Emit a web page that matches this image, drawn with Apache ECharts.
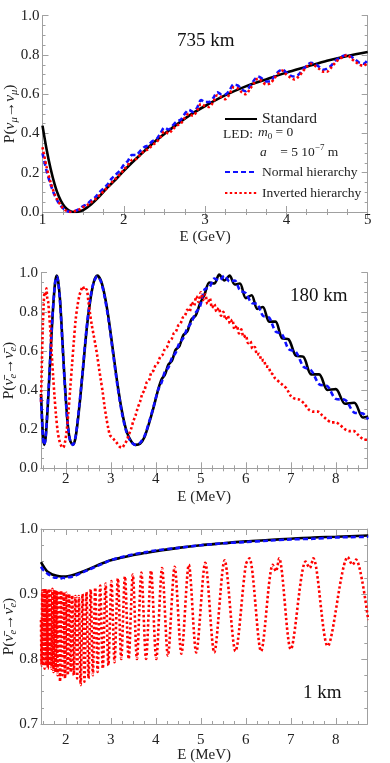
<!DOCTYPE html>
<html>
<head>
<meta charset="utf-8">
<script src="https://cdn.jsdelivr.net/npm/echarts@6/dist/echarts.min.js"></script>
<style>
html, body { margin: 0; padding: 0; background: #fff; }
#main { width: 390px; height: 763px; }
</style>
</head>
<body>
<div id="main"></div>
<script>
// ---- data ----
// 735 km, P(numu -> numu), E in GeV
var std735 = [[1.0,0.44],[1.05,0.32],[1.1,0.22],[1.15,0.14],[1.2,0.08],[1.25,0.04],[1.3,0.015],[1.35,0.003],[1.4,0.0],[1.45,0.003],[1.5,0.01],[1.6,0.04],[1.7,0.08],[1.8,0.125],[1.9,0.165],[2.0,0.21],[2.2,0.29],[2.4,0.365],[2.6,0.43],[2.8,0.49],[3.0,0.54],[3.25,0.595],[3.5,0.64],[3.75,0.675],[4.0,0.71],[4.25,0.74],[4.5,0.77],[4.75,0.795],[5.0,0.815]];
var nh735 = [[1.00,0.30],[1.05,0.21],[1.10,0.14],[1.15,0.085],[1.20,0.045],[1.25,0.02],[1.30,0.005],[1.35,0.0],[1.40,0.005],[1.45,0.015],[1.50,0.03],[1.55,0.04],[1.60,0.06],[1.65,0.075],[1.70,0.10],[1.75,0.12],[1.80,0.14],[1.85,0.17],[1.90,0.19],[1.95,0.21],[2.00,0.24],[2.05,0.26],[2.10,0.29],[2.15,0.29],[2.20,0.31],[2.25,0.33],[2.30,0.34],[2.35,0.36],[2.40,0.37],[2.45,0.40],[2.50,0.43],[2.55,0.42],[2.60,0.44],[2.65,0.46],[2.70,0.47],[2.75,0.50],[2.80,0.52],[2.85,0.51],[2.90,0.53],[2.95,0.57],[3.00,0.56],[3.05,0.56],[3.10,0.58],[3.15,0.61],[3.20,0.60],[3.25,0.60],[3.30,0.62],[3.35,0.65],[3.40,0.645],[3.45,0.625],[3.50,0.615],[3.55,0.64],[3.60,0.67],[3.65,0.69],[3.70,0.68],[3.75,0.665],[3.80,0.665],[3.85,0.69],[3.90,0.715],[3.95,0.725],[4.00,0.71],[4.05,0.695],[4.10,0.69],[4.15,0.70],[4.20,0.725],[4.25,0.745],[4.30,0.76],[4.35,0.755],[4.40,0.74],[4.45,0.725],[4.50,0.73],[4.55,0.745],[4.60,0.77],[4.65,0.785],[4.70,0.795],[4.75,0.80],[4.80,0.79],[4.85,0.775],[4.90,0.76],[4.95,0.755],[5.00,0.775]];
var ih735 = [[1.00,0.33],[1.05,0.23],[1.10,0.15],[1.15,0.09],[1.20,0.05],[1.25,0.02],[1.30,0.005],[1.35,0.0],[1.40,0.005],[1.45,0.012],[1.50,0.025],[1.55,0.035],[1.60,0.05],[1.65,0.065],[1.70,0.085],[1.75,0.105],[1.80,0.125],[1.85,0.15],[1.90,0.17],[1.95,0.19],[2.00,0.215],[2.05,0.24],[2.10,0.265],[2.15,0.27],[2.20,0.29],[2.25,0.31],[2.30,0.32],[2.35,0.34],[2.40,0.355],[2.45,0.38],[2.50,0.41],[2.55,0.40],[2.60,0.42],[2.65,0.44],[2.70,0.45],[2.75,0.48],[2.80,0.50],[2.85,0.49],[2.90,0.515],[2.95,0.55],[3.00,0.54],[3.05,0.535],[3.10,0.56],[3.15,0.595],[3.20,0.585],[3.25,0.575],[3.30,0.60],[3.35,0.635],[3.40,0.63],[3.45,0.61],[3.50,0.60],[3.55,0.625],[3.60,0.655],[3.65,0.68],[3.70,0.665],[3.75,0.65],[3.80,0.655],[3.85,0.68],[3.90,0.705],[3.95,0.72],[4.00,0.70],[4.05,0.685],[4.10,0.675],[4.15,0.69],[4.20,0.715],[4.25,0.74],[4.30,0.755],[4.35,0.745],[4.40,0.73],[4.45,0.715],[4.50,0.715],[4.55,0.735],[4.60,0.76],[4.65,0.78],[4.70,0.79],[4.75,0.80],[4.80,0.78],[4.85,0.765],[4.90,0.75],[4.95,0.745],[5.00,0.765]];

// 180 km, P(anti-nue -> anti-nue), E in MeV
var std180 = [[1.45,0.38],[1.48,0.22],[1.50,0.15],[1.52,0.12],[1.55,0.15],[1.58,0.24],[1.62,0.40],[1.66,0.58],[1.70,0.75],[1.74,0.89],[1.77,0.96],[1.80,0.985],[1.83,0.96],[1.87,0.87],[1.91,0.72],[1.95,0.55],[2.00,0.36],[2.05,0.21],[2.10,0.14],[2.16,0.12],[2.22,0.16],[2.30,0.31],[2.38,0.50],[2.46,0.70],[2.54,0.85],[2.62,0.95],[2.70,0.985],[2.78,0.96],[2.86,0.89],[2.95,0.77],[3.05,0.60],[3.15,0.43],[3.25,0.29],[3.35,0.19],[3.45,0.14],[3.55,0.12],[3.65,0.125],[3.75,0.16],[3.85,0.23],[3.95,0.31],[4.05,0.40],[4.13,0.455],[4.205,0.48],[4.28,0.53],[4.36,0.55],[4.44,0.605],[4.525,0.625],[4.61,0.68],[4.70,0.70],[4.79,0.76],[4.885,0.78],[4.98,0.84],[5.085,0.89],[5.19,0.95],[5.30,0.945],[5.41,0.99],[5.525,0.96],[5.64,0.985],[5.755,0.94],[5.87,0.945],[6.00,0.87],[6.13,0.885],[6.255,0.815],[6.38,0.825],[6.52,0.75],[6.66,0.75],[6.805,0.665],[6.95,0.66],[7.115,0.575],[7.28,0.57],[7.455,0.48],[7.63,0.48],[7.815,0.40],[8.0,0.405],[8.205,0.33],[8.41,0.335],[8.6,0.26],[8.72,0.265]];
var nh180 = [[1.45,0.36],[1.48,0.21],[1.50,0.14],[1.52,0.12],[1.55,0.15],[1.58,0.25],[1.62,0.41],[1.66,0.59],[1.70,0.76],[1.74,0.89],[1.77,0.96],[1.80,0.98],[1.83,0.955],[1.87,0.86],[1.91,0.71],[1.95,0.54],[2.00,0.35],[2.05,0.21],[2.10,0.14],[2.16,0.12],[2.22,0.165],[2.30,0.32],[2.38,0.51],[2.46,0.71],[2.54,0.86],[2.62,0.95],[2.70,0.98],[2.78,0.955],[2.86,0.88],[2.95,0.76],[3.05,0.59],[3.15,0.42],[3.25,0.28],[3.35,0.185],[3.45,0.135],[3.55,0.12],[3.65,0.13],[3.75,0.165],[3.85,0.235],[3.95,0.315],[4.05,0.40],[4.13,0.44],[4.205,0.495],[4.28,0.515],[4.36,0.565],[4.44,0.59],[4.525,0.64],[4.61,0.665],[4.70,0.715],[4.79,0.745],[4.885,0.795],[4.98,0.825],[5.085,0.915],[5.19,0.925],[5.30,0.97],[5.41,0.96],[5.525,0.985],[5.64,0.955],[5.755,0.96],[5.87,0.91],[6.00,0.895],[6.13,0.845],[6.255,0.84],[6.38,0.78],[6.52,0.77],[6.66,0.70],[6.805,0.685],[6.95,0.61],[7.115,0.595],[7.28,0.52],[7.455,0.50],[7.63,0.43],[7.815,0.42],[8.0,0.355],[8.205,0.35],[8.41,0.285],[8.6,0.28],[8.72,0.25]];
var ih180 = [[1.45,0.34],[1.47,0.55],[1.49,0.72],[1.51,0.84],[1.53,0.90],[1.55,0.88],[1.57,0.92],[1.59,0.87],[1.61,0.85],[1.63,0.79],[1.66,0.70],[1.69,0.58],[1.72,0.47],[1.75,0.37],[1.78,0.28],[1.82,0.19],[1.86,0.14],[1.90,0.115],[1.94,0.105],[1.98,0.13],[2.02,0.19],[2.06,0.29],[2.10,0.41],[2.14,0.53],[2.18,0.65],[2.22,0.76],[2.26,0.83],[2.30,0.88],[2.34,0.91],[2.38,0.93],[2.42,0.91],[2.46,0.915],[2.50,0.86],[2.54,0.79],[2.58,0.73],[2.62,0.68],[2.66,0.63],[2.70,0.575],[2.74,0.51],[2.78,0.45],[2.82,0.39],[2.86,0.32],[2.90,0.26],[2.94,0.21],[2.98,0.17],[3.02,0.16],[3.06,0.15],[3.10,0.14],[3.15,0.125],[3.20,0.11],[3.25,0.105],[3.30,0.12],[3.35,0.14],[3.40,0.17],[3.45,0.20],[3.50,0.24],[3.55,0.27],[3.60,0.31],[3.65,0.34],[3.70,0.38],[3.75,0.40],[3.80,0.44],[3.85,0.45],[3.90,0.49],[3.95,0.50],[4.00,0.53],[4.05,0.54],[4.10,0.57],[4.15,0.58],[4.20,0.61],[4.25,0.62],[4.30,0.65],[4.35,0.66],[4.40,0.69],[4.45,0.70],[4.50,0.73],[4.55,0.74],[4.60,0.77],[4.65,0.78],[4.70,0.81],[4.75,0.80],[4.80,0.85],[4.85,0.83],[4.90,0.88],[4.95,0.85],[5.00,0.90],[5.05,0.86],[5.10,0.89],[5.15,0.84],[5.20,0.87],[5.25,0.82],[5.30,0.84],[5.35,0.80],[5.40,0.82],[5.45,0.78],[5.50,0.80],[5.55,0.76],[5.60,0.78],[5.65,0.74],[5.70,0.76],[5.75,0.71],[5.80,0.73],[5.85,0.69],[5.90,0.71],[5.95,0.67],[6.00,0.68],[6.05,0.64],[6.10,0.65],[6.15,0.61],[6.20,0.62],[6.25,0.58],[6.30,0.585],[6.35,0.55],[6.40,0.555],[6.45,0.52],[6.50,0.52],[6.55,0.49],[6.60,0.48],[6.65,0.46],[6.70,0.45],[6.75,0.44],[6.80,0.43],[6.85,0.42],[6.90,0.41],[6.95,0.39],[7.00,0.37],[7.05,0.36],[7.10,0.355],[7.20,0.35],[7.30,0.33],[7.40,0.30],[7.50,0.29],[7.60,0.29],[7.70,0.27],[7.80,0.25],[7.90,0.235],[8.00,0.235],[8.10,0.22],[8.20,0.20],[8.30,0.19],[8.40,0.19],[8.50,0.17],[8.60,0.15],[8.72,0.145]];

// 1 km
var std1 = [[1.45,0.949],[1.5,0.943],[1.55,0.938],[1.6,0.934],[1.7,0.93],[1.8,0.928],[1.9,0.927],[2.0,0.927],[2.1,0.928],[2.2,0.93],[2.4,0.935],[2.6,0.941],[2.8,0.947],[3.0,0.952],[3.25,0.956],[3.5,0.96],[3.75,0.963],[4.0,0.966],[4.5,0.971],[5.0,0.975],[5.5,0.978],[6.0,0.981],[6.5,0.983],[7.0,0.985],[7.5,0.987],[8.0,0.988],[8.72,0.99]];
var nh1 = [[1.45,0.942],[1.5,0.937],[1.55,0.934],[1.6,0.931],[1.65,0.929],[1.7,0.927],[1.75,0.925],[1.8,0.925],[1.85,0.923],[1.9,0.924],[1.95,0.925],[2.0,0.924],[2.05,0.926],[2.1,0.926],[2.2,0.928],[2.3,0.931],[2.4,0.934],[2.5,0.937],[2.6,0.94],[2.8,0.946],[3.0,0.952],[3.25,0.957],[3.5,0.961],[3.75,0.964],[4.0,0.967],[4.5,0.971],[5.0,0.975],[5.5,0.978],[6.0,0.98],[6.5,0.982],[7.0,0.984],[7.5,0.985],[8.0,0.987],[8.72,0.988]];
var ih1 = [[1.45,0.86],[1.462,0.79],[1.478,0.905],[1.495,0.79],[1.512,0.908],[1.529,0.785],[1.547,0.908],[1.565,0.79],[1.583,0.906],[1.602,0.785],[1.622,0.908],[1.642,0.79],[1.662,0.905],[1.683,0.785],[1.705,0.908],[1.727,0.78],[1.75,0.906],[1.773,0.78],[1.797,0.905],[1.821,0.775],[1.847,0.905],[1.873,0.765],[1.90,0.905],[1.927,0.775],[1.955,0.903],[1.984,0.77],[2.014,0.902],[2.045,0.775],[2.077,0.90],[2.11,0.78],[2.144,0.898],[2.178,0.775],[2.215,0.897],[2.252,0.77],[2.29,0.897],[2.331,0.76],[2.373,0.90],[2.415,0.765],[2.46,0.903],[2.506,0.77],[2.554,0.907],[2.602,0.775],[2.655,0.91],[2.708,0.78],[2.765,0.913],[2.823,0.785],[2.885,0.916],[2.947,0.79],[3.015,0.92],[3.084,0.795],[3.158,0.924],[3.233,0.80],[3.315,0.927],[3.398,0.80],[3.49,0.93],[3.581,0.80],[3.68,0.933],[3.784,0.80],[3.895,0.936],[4.011,0.80],[4.14,0.94],[4.27,0.805],[4.42,0.942],[4.57,0.808],[4.735,0.945],[4.90,0.81],[5.10,0.948],[5.30,0.81],[5.53,0.952],[5.77,0.812],[6.0,0.945],[6.08,0.955],[6.34,0.812],[6.6,0.945],[6.67,0.935],[6.74,0.955],[7.00,0.815],[7.33,0.95],[7.42,0.94],[7.5,0.955],[7.82,0.82],[8.27,0.957],[8.37,0.945],[8.45,0.953],[8.72,0.86]];

// tick values
var xTicksGeV = [1, 2, 3, 4, 5];
var xTicksMeV = [2, 3, 4, 5, 6, 7, 8];
var yTicksP = [0, 0.2, 0.4, 0.6, 0.8, 1.0];
var yTicks1km = [0.7, 0.8, 0.9, 1.0];

var FONT = 'Liberation Serif';
var FRAME = '#a0a0a0';
var INK = '#222';

function steps(a, b, d) {
    var out = [];
    for (var v = a; v <= b + 1e-9; v += d) out.push(+v.toFixed(4));
    return out;
}

// 4 axes for one direction of a panel: labelled major, mirrored major, two minor overlays
function frameAxes(dim, grid, min, max, majors, minors, opt) {
    var pos = dim === 'x' ? ['bottom', 'top'] : ['left', 'right'];
    var base = {gridIndex: grid, type: 'value', min: min, max: max, splitLine: {show: false}};
    var line = {show: true, lineStyle: {color: FRAME, width: 1}};
    function tick(vals, len) {
        return {show: true, inside: true, length: len, customValues: vals, lineStyle: {color: FRAME, width: 1}};
    }
    var main = Object.assign({}, base, {
        position: pos[0], axisLine: line, axisTick: tick(majors, 6),
        axisLabel: {show: true, customValues: majors, margin: opt.margin, fontFamily: FONT, fontSize: 15, color: INK,
            formatter: function (v) { return opt.digits ? v.toFixed(opt.digits) : String(Math.round(v)); }},
        name: opt.name, nameLocation: 'middle', nameGap: opt.nameGap, nameMoveOverlap: false,
        nameTextStyle: {fontFamily: FONT, fontSize: 15, color: INK, rich: opt.rich || {}}
    });
    var mirror = Object.assign({}, base, {position: pos[1], axisLine: line, axisTick: tick(majors, 6), axisLabel: {show: false}});
    var m1 = Object.assign({}, base, {position: pos[0], axisLine: {show: false}, axisTick: tick(minors, 3), axisLabel: {show: false}});
    var m2 = Object.assign({}, base, {position: pos[1], axisLine: {show: false}, axisTick: tick(minors, 3), axisLabel: {show: false}});
    return [main, mirror, m1, m2];
}

var nameRich = {
    t: {fontFamily: FONT, fontSize: 15.5, color: INK, lineHeight: 20, verticalAlign: 'middle'},
    it: {fontFamily: FONT, fontSize: 15.5, fontStyle: 'italic', color: INK, lineHeight: 20, verticalAlign: 'middle'},
    sub: {fontFamily: FONT, fontSize: 10.5, fontStyle: 'italic', color: INK, lineHeight: 11, verticalAlign: 'bottom'}
};
var nuBar = '\u03bd\u0304';

var xAxes = [].concat(
    frameAxes('x', 0, 1, 5, xTicksGeV, steps(1, 5, 0.25), {margin: 1, name: 'E (GeV)', nameGap: 18}),
    frameAxes('x', 1, 1.45, 8.7, xTicksMeV, steps(1.5, 8.5, 0.25), {margin: 3, name: 'E (MeV)', nameGap: 21}),
    frameAxes('x', 2, 1.45, 8.7, xTicksMeV, steps(1.5, 8.5, 0.25), {margin: 9, name: 'E (MeV)', nameGap: 24})
);
var yAxes = [].concat(
    frameAxes('y', 0, 0, 1, yTicksP, steps(0, 1, 0.05), {margin: 3, digits: 1, nameGap: 23, rich: nameRich,
        name: '{t|P(}{it|\u03bd}{sub|\u03bc}{t|\u2192}{it|\u03bd}{sub|\u03bc}{t|)}'}),
    frameAxes('y', 1, 0, 1, yTicksP, steps(0, 1, 0.05), {margin: 3, digits: 1, nameGap: 22, rich: nameRich,
        name: '{t|P(}{it|' + nuBar + '}{sub|e}{t|\u2192}{it|' + nuBar + '}{sub|e}{t|)}'}),
    frameAxes('y', 2, 0.7, 1, yTicks1km, steps(0.7, 1, 0.025), {margin: 3, digits: 1, nameGap: 22, rich: nameRich,
        name: '{t|P(}{it|' + nuBar + '}{sub|e}{t|\u2192}{it|' + nuBar + '}{sub|e}{t|)}'})
);

function curve(name, data, panel, kind) {
    var styles = {
        std: {color: '#000', width: 2.6, type: 'solid'},
        nh: {color: '#1010ff', width: 2.6, type: [5, 3]},
        ih: {color: '#ff0000', width: 2.6, type: [2.4, 2.4]}
    };
    return {
        name: name, type: 'line', data: data,
        xAxisIndex: panel * 4, yAxisIndex: panel * 4,
        showSymbol: false, symbol: 'none', smooth: 0.3, clip: true,
        lineStyle: styles[kind], itemStyle: {color: styles[kind].color},
        emphasis: {disabled: true}
    };
}

var chart = echarts.init(document.getElementById('main'), null, {renderer: 'canvas'});
chart.setOption({
    animation: false,
    backgroundColor: '#fff',
    grid: [
        {left: 42.5, top: 15.7, width: 325.2, height: 196.3, outerBoundsMode: 'none', containLabel: false},
        {left: 41, top: 272.7, width: 326.3, height: 195.6, outerBoundsMode: 'none', containLabel: false},
        {left: 41, top: 529, width: 326.3, height: 195, outerBoundsMode: 'none', containLabel: false}
    ],
    xAxis: xAxes,
    yAxis: yAxes,
    legend: [
        {data: ['Standard'], left: 219, top: 106, itemWidth: 32, itemHeight: 12, selectedMode: false,
            itemStyle: {opacity: 0}, textStyle: {fontFamily: FONT, fontSize: 15.5, color: INK}},
        {data: ['Normal hierarchy', 'Inverted hierarchy'], orient: 'vertical', left: 219, top: 160, itemGap: 7,
            itemWidth: 32, itemHeight: 12, selectedMode: false, itemStyle: {opacity: 0},
            textStyle: {fontFamily: FONT, fontSize: 13.5, color: INK}}
    ],
    graphic: [
        {type: 'text', left: 177, top: 32, style: {text: '735 km', font: '19px "Liberation Serif"', fill: '#111'}},
        {type: 'text', left: 290, top: 287, style: {text: '180 km', font: '19px "Liberation Serif"', fill: '#111'}},
        {type: 'text', left: 303, top: 684, style: {text: '1 km', font: '19px "Liberation Serif"', fill: '#111'}},
        {type: 'text', left: 223, top: 127, style: {text: 'LED:', font: '13.5px "Liberation Serif"', fill: INK}},
        {type: 'text', left: 258, top: 125, style: {
            text: '{i|m}{s|0}{n| = 0}',
            rich: {
                i: {font: 'italic 13.5px "Liberation Serif"', fill: INK, lineHeight: 18, verticalAlign: 'middle'},
                s: {font: '9px "Liberation Serif"', fill: INK, lineHeight: 10, verticalAlign: 'bottom'},
                n: {font: '13.5px "Liberation Serif"', fill: INK, lineHeight: 18, verticalAlign: 'middle'}
            }}},
        {type: 'text', left: 260, top: 143, style: {
            text: '{i|a}{n|    = 5 10}{p|\u22127}{n| m}',
            rich: {
                i: {font: 'italic 13.5px "Liberation Serif"', fill: INK, lineHeight: 18, verticalAlign: 'middle'},
                p: {font: '9px "Liberation Serif"', fill: INK, lineHeight: 10, verticalAlign: 'top'},
                n: {font: '13.5px "Liberation Serif"', fill: INK, lineHeight: 18, verticalAlign: 'middle'}
            }}}
    ],
    series: [
        curve('Standard', std735, 0, 'std'),
        curve('Normal hierarchy', nh735, 0, 'nh'),
        curve('Inverted hierarchy', ih735, 0, 'ih'),
        curve('Standard', std180, 1, 'std'),
        curve('Normal hierarchy', nh180, 1, 'nh'),
        curve('Inverted hierarchy', ih180, 1, 'ih'),
        curve('Standard', std1, 2, 'std'),
        curve('Normal hierarchy', nh1, 2, 'nh'),
        curve('Inverted hierarchy', ih1, 2, 'ih')
    ]
});
</script>
</body>
</html>
